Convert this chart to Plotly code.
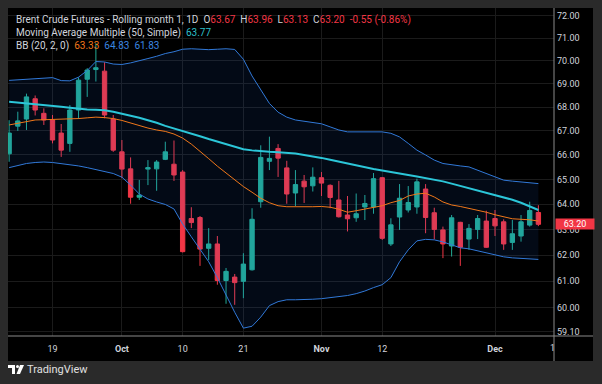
import math
import plotly.graph_objects as go

# ---------------- data ----------------
dates = [
    "2025-09-12", "2025-09-15", "2025-09-16", "2025-09-17", "2025-09-18", "2025-09-19",
    "2025-09-22", "2025-09-23", "2025-09-24", "2025-09-25", "2025-09-26", "2025-09-29",
    "2025-09-30", "2025-10-01", "2025-10-02", "2025-10-03", "2025-10-06", "2025-10-07",
    "2025-10-08", "2025-10-09", "2025-10-10", "2025-10-13", "2025-10-14", "2025-10-15",
    "2025-10-16", "2025-10-17", "2025-10-20", "2025-10-21", "2025-10-22", "2025-10-23",
    "2025-10-24", "2025-10-27", "2025-10-28", "2025-10-29", "2025-10-30", "2025-10-31",
    "2025-11-03", "2025-11-04", "2025-11-05", "2025-11-06", "2025-11-07", "2025-11-10",
    "2025-11-11", "2025-11-12", "2025-11-13", "2025-11-14", "2025-11-17", "2025-11-18",
    "2025-11-19", "2025-11-20", "2025-11-21", "2025-11-24", "2025-11-25", "2025-11-26",
    "2025-11-27", "2025-11-28", "2025-12-01", "2025-12-02", "2025-12-03", "2025-12-04",
    "2025-12-05", "2025-12-08",
]
opens = [66.05, 67.20, 67.50, 68.36, 67.74, 67.46, 66.91, 66.48, 67.88, 69.20,
         69.62, 69.55, 67.50, 66.13, 65.43, 64.28, 65.42, 65.43, 65.82, 65.62,
         65.30, 63.43, 63.47, 62.26, 62.43, 61.02, 61.15, 60.99, 61.43, 64.10,
         65.74, 66.27, 65.47, 64.45, 64.93, 64.74, 65.07, 64.76, 64.17, 63.57,
         63.46, 63.89, 63.89, 65.07, 62.43, 63.49, 63.77, 63.89, 64.61, 63.66,
         62.98, 62.35, 63.28, 62.62, 63.00, 63.33, 63.43, 63.30, 62.49, 62.74,
         63.17, 63.67]
highs = [67.45, 67.81, 68.58, 68.50, 67.95, 67.67, 67.29, 68.09, 69.28, 69.68,
         70.78, 69.94, 67.67, 66.62, 65.90, 64.98, 65.79, 65.79, 66.55, 66.60,
         65.38, 63.88, 63.53, 63.05, 62.74, 61.50, 61.27, 62.07, 63.84, 66.40,
         66.76, 66.45, 65.76, 65.38, 65.18, 65.49, 65.30, 64.80, 64.94, 64.33,
         64.43, 64.37, 65.26, 65.10, 63.44, 64.81, 64.73, 65.03, 64.81, 63.86,
         63.11, 63.57, 63.30, 63.21, 63.57, 63.74, 63.77, 63.40, 63.37, 63.57,
         64.10, 63.96]
lows = [65.72, 67.00, 67.04, 67.65, 67.25, 66.48, 65.92, 66.13, 67.50, 68.44,
        69.10, 67.53, 66.13, 65.05, 64.02, 64.17, 64.77, 64.54, 65.79, 64.94,
        62.10, 63.05, 61.58, 61.81, 60.86, 60.14, 60.10, 60.35, 61.40, 63.86,
        65.38, 65.10, 64.02, 63.93, 64.05, 64.51, 64.33, 63.84, 63.47, 62.92,
        63.30, 63.37, 63.62, 62.59, 62.35, 62.98, 63.67, 63.62, 62.85, 62.61,
        61.88, 61.94, 61.58, 62.20, 62.62, 62.28, 62.74, 62.20, 62.20, 62.52,
        63.11, 63.13]
closes = [66.91, 67.42, 68.44, 67.88, 67.46, 66.62, 66.20, 67.88, 69.16, 69.60,
          69.70, 67.67, 66.20, 65.42, 64.28, 64.36, 65.48, 65.71, 66.13, 65.18,
          62.13, 63.27, 62.23, 62.43, 61.02, 61.37, 60.94, 61.65, 63.40, 65.90,
          65.86, 65.87, 64.41, 64.79, 64.70, 65.09, 64.85, 64.27, 63.50, 63.42,
          63.62, 64.03, 65.03, 62.65, 63.18, 64.24, 64.07, 64.90, 63.47, 63.00,
          62.43, 63.46, 62.30, 63.04, 63.43, 62.30, 63.14, 62.43, 62.83, 63.30,
          63.75, 63.20]
ma50 = [68.23, 68.20, 68.16, 68.12, 68.08, 68.05, 68.02, 67.98, 67.93, 67.90,
        67.89, 67.87, 67.81, 67.74, 67.64, 67.55, 67.45, 67.34, 67.21, 67.11,
        67.00, 66.90, 66.78, 66.66, 66.55, 66.43, 66.33, 66.24, 66.19, 66.15,
        66.13, 66.11, 66.09, 66.06, 66.00, 65.95, 65.88, 65.80, 65.72, 65.65,
        65.58, 65.50, 65.42, 65.36, 65.31, 65.25, 65.18, 65.12, 65.06, 64.99,
        64.92, 64.83, 64.74, 64.64, 64.54, 64.45, 64.37, 64.28, 64.18, 64.06,
        63.93, 63.77]
bb_basis = [67.25, 67.31, 67.40, 67.46, 67.47, 67.48, 67.49, 67.49, 67.52, 67.55,
            67.58, 67.56, 67.52, 67.44, 67.33, 67.23, 67.12, 67.04, 66.98, 66.87,
            66.70, 66.45, 66.16, 65.85, 65.54, 65.26, 64.99, 64.71, 64.48, 64.24,
            64.06, 63.94, 63.90, 63.89, 63.89, 63.90, 63.91, 63.88, 63.80, 63.68,
            63.74, 63.80, 63.85, 63.94, 64.06, 64.15, 64.33, 64.41, 64.44, 64.29,
            64.09, 63.97, 63.91, 63.84, 63.77, 63.68, 63.58, 63.49, 63.42, 63.40,
            63.38, 63.33]
bb_upper = [69.15, 69.17, 69.19, 69.20, 69.25, 69.27, 69.14, 69.13, 69.29, 69.58,
            69.97, 69.95, 69.86, 69.84, 69.91, 69.99, 70.10, 70.20, 70.32, 70.40,
            70.51, 70.53, 70.51, 70.49, 70.51, 70.53, 70.50, 70.07, 69.34, 68.73,
            68.16, 67.79, 67.58, 67.46, 67.40, 67.35, 67.30, 67.17, 67.04, 66.96,
            66.96, 66.98, 66.99, 66.96, 66.90, 66.75, 66.48, 66.20, 66.00, 65.79,
            65.65, 65.59, 65.55, 65.51, 65.38, 65.26, 65.10, 64.97, 64.93, 64.90,
            64.87, 64.83]
bb_lower = [65.48, 65.57, 65.65, 65.69, 65.71, 65.69, 65.65, 65.62, 65.55, 65.48,
            65.39, 65.31, 65.24, 65.09, 64.77, 64.41, 64.21, 64.09, 63.99, 63.81,
            63.21, 62.71, 62.24, 61.74, 61.13, 60.45, 59.82, 59.23, 59.30, 59.64,
            60.07, 60.22, 60.29, 60.29, 60.29, 60.31, 60.33, 60.37, 60.41, 60.45,
            60.52, 60.62, 60.75, 60.86, 61.13, 61.74, 62.20, 62.55, 62.61, 62.59,
            62.51, 62.39, 62.28, 62.24, 62.16, 62.06, 62.00, 61.93, 61.89, 61.87,
            61.85, 61.83]
price_ticks = [59.1, 60, 61, 62, 63, 64, 65, 66, 67, 68, 69, 70, 71, 72]
x_tick_dates = ["2025-09-19", "2025-10-01", "2025-10-10", "2025-10-21",
                "2025-11-03", "2025-11-12", "2025-12-01"]
x_tick_text = ["19", "<b>Oct</b>", "10", "21", "<b>Nov</b>", "12", "<b>Dec</b>"]
last_price = 63.20

# ---------------- layout geometry ----------------
FW, FH = 602, 384
L, T, R, B = 8, 8, 554, 336
PW, PH = R - L, B - T


def px(x):
    return (x - L) / PW


def py(y):
    return (B - y) / PH


FONT = "Roboto"
TXT = "#d1d4dc"
UP, DOWN = "#22ab94", "#f23645"

fig = go.Figure()

fig.add_trace(go.Scatter(x=dates, y=bb_lower, mode="lines",
                         line=dict(color="#3179d8", width=1), hoverinfo="skip"))
fig.add_trace(go.Scatter(x=dates, y=bb_upper, mode="lines", fill="tonexty",
                         fillcolor="rgba(33,110,243,0.09)",
                         line=dict(color="#3179d8", width=1), hoverinfo="skip"))
fig.add_trace(go.Scatter(x=dates, y=bb_basis, mode="lines",
                         line=dict(color="#f0771a", width=1), hoverinfo="skip"))
fig.add_trace(go.Scatter(x=dates, y=ma50, mode="lines",
                         line=dict(color="#2cc6d8", width=2), hoverinfo="skip"))
fig.add_trace(go.Candlestick(
    x=dates, open=opens, high=highs, low=lows, close=closes,
    increasing=dict(line=dict(color=UP, width=1), fillcolor=UP),
    decreasing=dict(line=dict(color=DOWN, width=1), fillcolor=DOWN),
    whiskerwidth=0,
))

ylo = math.log10(58.94)
yhi = math.log10(72.35)

shapes = [
    dict(type="rect", xref="paper", yref="paper", x0=px(L), x1=px(593),
         y0=py(361), y1=py(T), fillcolor="#000000", line=dict(width=0), layer="below"),
    dict(type="line", xref="paper", yref="y", x0=0, x1=1,
         y0=math.log10(last_price), y1=math.log10(last_price),
         line=dict(color=DOWN, width=1, dash="dot")),
    dict(type="line", xref="paper", yref="paper", x0=px(L), x1=px(593),
         y0=py(B), y1=py(B), line=dict(color="#8a8a8a", width=1)),
    dict(type="line", xref="paper", yref="paper", x0=px(554), x1=px(554),
         y0=py(361), y1=py(T), line=dict(color="#8a8a8a", width=1)),
    # TradingView logo (approximate)
    dict(type="rect", xref="paper", yref="paper", x0=px(8), x1=px(15),
         y0=py(368), y1=py(365), fillcolor="#ffffff", line=dict(width=0)),
    dict(type="rect", xref="paper", yref="paper", x0=px(12), x1=px(15),
         y0=py(374), y1=py(365), fillcolor="#ffffff", line=dict(width=0)),
    dict(type="circle", xref="paper", yref="paper", x0=px(16), x1=px(19),
         y0=py(368), y1=py(365), fillcolor="#ffffff", line=dict(width=0)),
    dict(type="path", xref="paper", yref="paper",
         path=f"M {px(20)} {py(365)} L {px(24)} {py(365)} L {px(20)} {py(374)} L {px(16.5)} {py(374)} Z",
         fillcolor="#ffffff", line=dict(width=0)),
]

legend1 = (f"Brent Crude Futures - Rolling month 1, 1D  "
           f"O<span style='color:{DOWN}'>63.67</span>  "
           f"H<span style='color:{DOWN}'>63.96</span>  "
           f"L<span style='color:{DOWN}'>63.13</span>  "
           f"C<span style='color:{DOWN}'>63.20</span>  "
           f"<span style='color:{DOWN}'>-0.55 (-0.86%)</span>")
legend2 = "Moving Average Multiple (50, Simple)  <span style='color:#2cbfc9'>63.77</span>"
legend3 = ("BB (20, 2, 0)  <span style='color:#f0771a'>63.33</span>  "
           "<span style='color:#3a86e0'>64.83</span>  <span style='color:#3a86e0'>61.83</span>")

annotations = []
for txt, yc in [(legend1, 20), (legend2, 33.3), (legend3, 46)]:
    annotations.append(dict(text=txt, xref="paper", yref="paper", x=px(14), y=py(yc),
                            xanchor="left", yanchor="middle", showarrow=False,
                            font=dict(family=FONT, size=10, color=TXT)))
annotations.append(dict(text="63.20", xref="paper", yref="y", x=px(555),
                        y=math.log10(last_price), xanchor="left", yanchor="middle",
                        showarrow=False, bgcolor=DOWN, width=38, height=10, borderpad=0,
                        font=dict(family=FONT, size=9, color="#ffffff")))
annotations.append(dict(text="1", xref="paper", yref="paper", x=px(552.5), y=py(348),
                        xanchor="center", yanchor="middle", showarrow=False,
                        font=dict(family=FONT, size=9, color=TXT)))
annotations.append(dict(text="TradingView", xref="paper", yref="paper", x=px(25), y=py(369.5),
                        xanchor="left", yanchor="middle", showarrow=False,
                        font=dict(family=FONT, size=11, color="#e0e0e0")))

fig.update_layout(
    width=FW, height=FH,
    margin=dict(l=L, r=FW - R, t=T, b=FH - B),
    paper_bgcolor="#2a2a2a", plot_bgcolor="#000000",
    showlegend=False,
    boxgap=0.5, boxgroupgap=0,
    shapes=shapes, annotations=annotations,
    xaxis=dict(type="category", range=[-0.13, 62.8], rangeslider=dict(visible=False),
               tickvals=x_tick_dates, ticktext=x_tick_text, showgrid=True,
               gridcolor="#1b1b1b", gridwidth=1, zeroline=False, showline=False, ticks="",
               ticklabelstandoff=6,
               tickfont=dict(family=FONT, size=9, color=TXT)),
    yaxis=dict(type="log", range=[ylo, yhi], side="right", tickvals=price_ticks,
               ticktext=[f"{v:.2f}" for v in price_ticks], showgrid=True,
               gridcolor="#1b1b1b", gridwidth=1, zeroline=False, showline=False, ticks="",
               ticklabelstandoff=2,
               tickfont=dict(family=FONT, size=9, color=TXT)),
)

fig.write_html(
    "out.html",
    config={"displayModeBar": False},
    post_script="document.body.style.margin='0';document.body.style.background='#2a2a2a';",
)
